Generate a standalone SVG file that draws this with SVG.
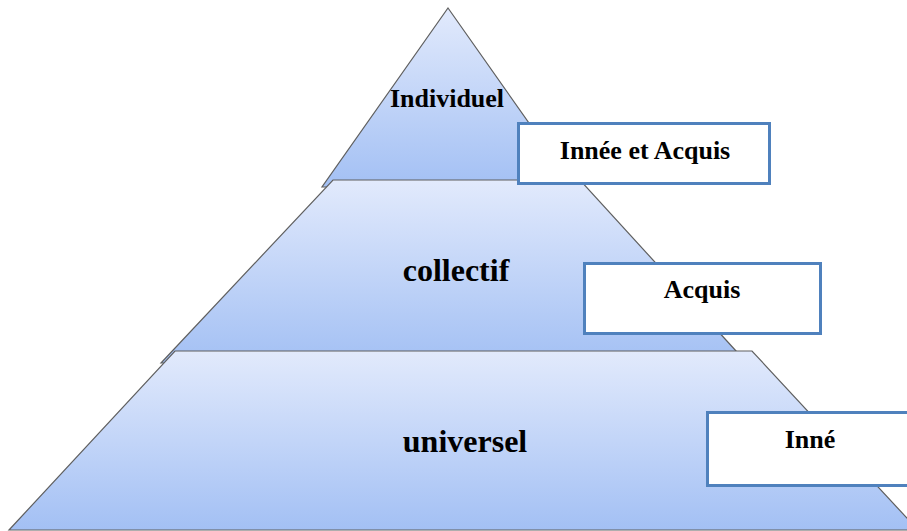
<svg xmlns="http://www.w3.org/2000/svg" width="907" height="531" viewBox="0 0 907 531">
  <defs>
    <linearGradient id="tierFill" x1="0" y1="0" x2="0" y2="1">
      <stop offset="0" stop-color="#e2eafc"/>
      <stop offset="1" stop-color="#a3c0f4"/>
    </linearGradient>
  </defs>
  <style>
    .tier { fill: url(#tierFill); stroke: #5f5f5f; stroke-width: 1.2; stroke-linejoin: miter; }
    .box { fill: #ffffff; stroke: #4f81bd; stroke-width: 3; }
    .lbl { font-family: "Liberation Serif", "Times New Roman", serif; font-weight: bold; fill: #000000; text-anchor: middle; }
    .big { font-size: 32px; }
    .small { font-size: 26px; }
  </style>

  <!-- pyramid tiers, drawn top to bottom so each lower tier overlaps the one above -->
  <g id="tier-individuel">
    <polygon class="tier" points="448,8 574,187 322,187"/>
    <text class="lbl small" x="447" y="107">Individuel</text>
  </g>
  <g id="tier-collectif">
    <polygon class="tier" points="333,180 580,180 747,363 161,363"/>
    <text class="lbl big" x="456" y="281">collectif</text>
  </g>
  <g id="tier-universel">
    <polygon class="tier" points="175,351 752,351 918,530 9,530"/>
    <text class="lbl big" x="465" y="452">universel</text>
  </g>

  <!-- side labels -->
  <g id="box-innee-acquis">
    <rect class="box" x="518.5" y="123.5" width="251" height="60"/>
    <text class="lbl small" x="645" y="159">Innée et Acquis</text>
  </g>
  <g id="box-acquis">
    <rect class="box" x="584.5" y="263.5" width="236" height="70"/>
    <text class="lbl small" x="702" y="298">Acquis</text>
  </g>
  <g id="box-inne">
    <rect class="box" x="707.5" y="412.5" width="207" height="73"/>
    <text class="lbl small" x="810" y="448">Inné</text>
  </g>

  <g id="connectors"/>
</svg>
